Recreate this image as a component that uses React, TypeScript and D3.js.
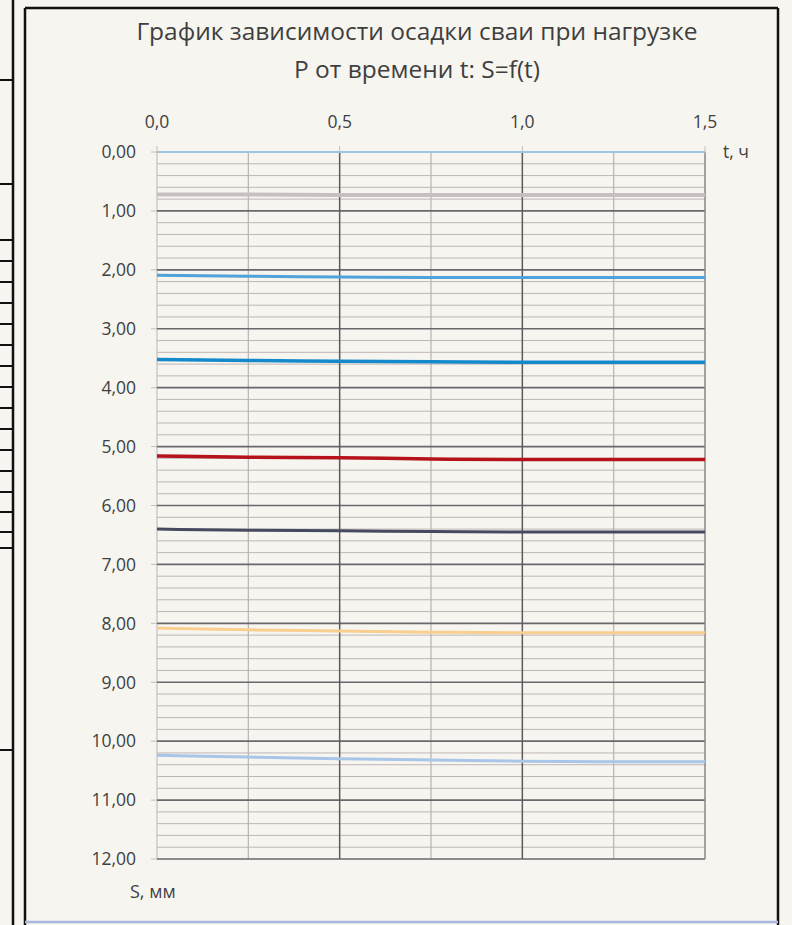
import React from "react";
import * as d3 from "d3";

// ---- data ----
const timeH = [0, 0.25, 0.5, 0.75, 1.0, 1.25, 1.5];
const s0 = [0, 0, 0, 0, 0, 0, 0];
const s1 = [0.72, 0.72, 0.73, 0.73, 0.73, 0.73, 0.73];
const s2 = [2.09, 2.11, 2.12, 2.13, 2.13, 2.13, 2.13];
const s3 = [3.52, 3.54, 3.55, 3.56, 3.57, 3.57, 3.57];
const s4 = [5.16, 5.18, 5.19, 5.21, 5.22, 5.22, 5.22];
const s5 = [6.40, 6.42, 6.43, 6.44, 6.45, 6.45, 6.45];
const s6 = [8.08, 8.11, 8.13, 8.15, 8.16, 8.16, 8.16];
const s7 = [10.24, 10.27, 10.30, 10.32, 10.34, 10.35, 10.35];
const seriesList = [s0, s1, s2, s3, s4, s5, s6, s7];
const seriesColors = ["#9fc3e3", "#c6c0c0", "#4ea3dc", "#1489cc", "#b5121b", "#454a5e", "#f8cf8e", "#a9c5e8"];
const seriesWidths = [2, 4, 3, 3.5, 3.5, 3, 3, 3];

const xTicks = [0, 0.5, 1.0, 1.5];
const yTicks = [0, 1, 2, 3, 4, 5, 6, 7, 8, 9, 10, 11, 12];
const titleLines = ["График зависимости осадки сваи при нагрузке", "P от времени t: S=f(t)"];
const xAxisTitle = "t, ч";
const yAxisTitle = "S, мм";
const leftTableRows = [80, 184, 240, 261, 282, 303, 324, 345, 366, 387, 408, 429, 450, 471, 492, 512, 532, 548, 750];

export default function App() {
  const W = 792, H = 925;
  const x = d3.scaleLinear().domain([0, 1.5]).range([157, 705]);
  const y = d3.scaleLinear().domain([0, 12]).range([152, 859]);
  const minorY = d3.range(0, 12.0001, 0.2).map((v) => +v.toFixed(1));
  const minorX = [0.25, 0.75, 1.25];
  const line = d3.line<number>().x((_, i) => x(timeH[i])).y((d) => y(d)).curve(d3.curveMonotoneX);
  const fmtX = (v: number) => v.toFixed(1).replace(".", ",");
  const fmtY = (v: number) => v.toFixed(2).replace(".", ",");
  const font = "'Open Sans', 'Noto Sans', sans-serif";
  const txt = "#3f3f3f";
  return (
    <svg width={W} height={H} style={{ position: "fixed", left: 0, top: 0 }} fontFamily={font}>
      <rect x={0} y={0} width={W} height={H} fill="#f7f5ef" />
      {/* left table fragment */}
      <line x1={13} y1={0} x2={13} y2={H} stroke="#111" strokeWidth={2.5} />
      {leftTableRows.map((r) => (
        <line key={r} x1={0} y1={r} x2={13} y2={r} stroke="#111" strokeWidth={2} />
      ))}
      {/* chart frame */}
      <line x1={25} y1={8} x2={25} y2={H} stroke="#111" strokeWidth={2.5} />
      <line x1={25} y1={8} x2={778} y2={8} stroke="#111" strokeWidth={2.5} />
      <line x1={778} y1={8} x2={778} y2={H} stroke="#111" strokeWidth={2.5} />
      <line x1={25} y1={922} x2={778} y2={922} stroke="#a9b8e0" strokeWidth={2.5} />

      {/* title */}
      <text x={417} y={40} textAnchor="middle" fontSize={24.5} fill={txt}>{titleLines[0]}</text>
      <text x={417} y={78} textAnchor="middle" fontSize={24.5} fill={txt}>{titleLines[1]}</text>

      {/* minor horizontal grid */}
      {minorY.filter((v) => Math.abs(v - Math.round(v)) > 0.01).map((v) => (
        <line key={"mh" + v} x1={x(0)} x2={x(1.5)} y1={y(v)} y2={y(v)} stroke="#bdb6b6" strokeWidth={1} />
      ))}
      {/* minor vertical grid */}
      {minorX.map((v) => (
        <line key={"mv" + v} x1={x(v)} x2={x(v)} y1={y(0)} y2={y(12)} stroke="#b9b3b3" strokeWidth={1.2} />
      ))}
      {/* axis line at t=0 */}
      <line x1={x(0)} x2={x(0)} y1={y(0)} y2={y(12)} stroke="#c4bebe" strokeWidth={1.2} />
      {/* major horizontal grid */}
      {yTicks.map((v) => (
        <line key={"Mh" + v} x1={x(0)} x2={x(1.5)} y1={y(v)} y2={y(v)} stroke="#6d666c" strokeWidth={1.6} />
      ))}
      {/* major vertical grid */}
      {xTicks.slice(1).map((v) => (
        <line key={"Mv" + v} x1={x(v)} x2={x(v)} y1={y(0)} y2={y(12)} stroke={v === 1.5 ? "#8a8488" : "#5f595e"} strokeWidth={1.5} />
      ))}
      {/* ticks */}
      {yTicks.map((v) => (
        <line key={"ty" + v} x1={x(0) - 6} x2={x(0)} y1={y(v)} y2={y(v)} stroke="#c4bebe" strokeWidth={1} />
      ))}
      {xTicks.map((v) => (
        <line key={"tx" + v} x1={x(v)} x2={x(v)} y1={y(0) - 6} y2={y(0)} stroke="#c4bebe" strokeWidth={1} />
      ))}

      {/* data series */}
      {seriesList.map((s, i) => (
        <path key={"s" + i} d={line(s) || ""} fill="none" stroke={seriesColors[i]} strokeWidth={seriesWidths[i]} strokeLinecap="butt" />
      ))}

      {/* tick labels */}
      {xTicks.map((v) => (
        <text key={"lx" + v} x={x(v)} y={128} textAnchor="middle" fontSize={17.5} fill={txt}>{fmtX(v)}</text>
      ))}
      {yTicks.map((v) => (
        <text key={"ly" + v} x={136} y={y(v)} dy="0.36em" textAnchor="end" fontSize={17.5} fill={txt}>{fmtY(v)}</text>
      ))}
      <text x={723} y={y(0)} dy="0.36em" fontSize={17.5} fill={txt}>{xAxisTitle}</text>
      <text x={130} y={898} fontSize={18} fill={txt}>{yAxisTitle}</text>
    </svg>
  );
}
